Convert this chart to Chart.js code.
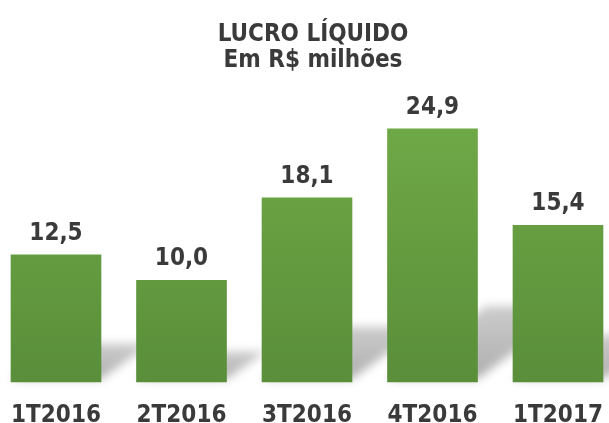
<!DOCTYPE html>
<html>
<head>
<meta charset="utf-8">
<script src="https://cdn.jsdelivr.net/npm/chart.js@4.4.0/dist/chart.umd.min.js"></script>
<style>
  html, body { margin: 0; padding: 0; background: #fff; overflow: hidden; }
  #wrap { position: relative; width: 609px; height: 423px; }
</style>
</head>
<body>
<div id="wrap"><canvas id="lucroChart"></canvas></div>
<script>
  "use strict";

  // data
  var quarters = ['1T2016', '2T2016', '3T2016', '4T2016', '1T2017'];
  var lucro = [12.5, 10.0, 18.1, 24.9, 15.4];
  var titleLines = ['LUCRO LÍQUIDO', 'Em R$ milhões'];

  var FONT = "'DejaVu Sans Condensed', 'DejaVu Sans', sans-serif";
  var TEXT = '#3a3a3a';

  /*title - two lines, sits a little right of the bars' centre like the source*/
  var chartTitle = {
    id: 'chartTitle',
    afterDraw: function(chart) {
      var ctx = chart.ctx;
      ctx.save();
      ctx.font = 'bold 24px ' + FONT;
      ctx.fillStyle = TEXT;
      ctx.textAlign = 'center';
      ctx.textBaseline = 'alphabetic';
      ctx.fillText(titleLines[0], 313, 41);
      ctx.fillText(titleLines[1], 313, 67);
      ctx.restore();
    }
  };

  /*soft grey shadow cast up-right behind each bar*/
  var barShadow = {
    id: 'barShadow',
    beforeDatasetsDraw: function(chart) {
      var ctx = chart.ctx;
      ctx.save();
      ctx.filter = 'blur(5px)';
      chart.getDatasetMeta(0).data.forEach(function(bar) {
        var l = bar.x - bar.width / 2, r = bar.x + bar.width / 2, b = bar.base;
        var k = (b - bar.y) * 0.3;
        var g = ctx.createLinearGradient(0, b, 0, b - k);
        g.addColorStop(0, 'rgba(0,0,0,0.32)');
        g.addColorStop(1, 'rgba(0,0,0,0.2)');
        ctx.fillStyle = g;
        ctx.beginPath();
        ctx.moveTo(l, b - 3);
        ctx.lineTo(r, b - 3);
        ctx.lineTo(r + k * 1.3, b - k);
        ctx.lineTo(l + k * 1.3, b - k);
        ctx.closePath();
        ctx.fill();
      });
      ctx.restore();
    }
  };

  /*value labels on top of bars*/
  var valueLabels = {
    id: 'valueLabels',
    afterDatasetsDraw: function(chart) {
      var ctx = chart.ctx;
      ctx.save();
      ctx.font = 'bold 24px ' + FONT;
      ctx.fillStyle = TEXT;
      ctx.textAlign = 'center';
      ctx.textBaseline = 'alphabetic';
      chart.getDatasetMeta(0).data.forEach(function(bar, i) {
        ctx.fillText(lucro[i].toFixed(1).replace('.', ','), bar.x, bar.y - 15);
      });
      ctx.restore();
    }
  };

  var ctx = document.getElementById('lucroChart').getContext('2d');
  var chart = new Chart(ctx, {
    type: 'bar',
    data: {
      labels: quarters,
      datasets: [{
        label: 'Lucro líquido',
        data: lucro,
        barThickness: 90,
        clip: false,
        borderWidth: 0,
        backgroundColor: function(c) {
          var area = c.chart.chartArea;
          if (!area) return '#67a042';
          var g = c.chart.ctx.createLinearGradient(0, area.top, 0, area.bottom);
          g.addColorStop(0, '#72ad48');
          g.addColorStop(1, '#5a8e3a');
          return g;
        }
      }]
    },
    options: {
      responsive: true,
      maintainAspectRatio: false,
      animation: false,
      layout: {
        padding: { left: 56, right: 51, top: 81, bottom: 0 }
      },
      plugins: {
        legend: { display: false },
        tooltip: { enabled: false },
        title: { display: false }
      },
      scales: {
        x: {
          offset: false,
          grid: { display: false, drawTicks: false },
          border: { display: false },
          ticks: {
            color: TEXT,
            padding: 0,
            font: { family: FONT, size: 24, weight: 'bold', lineHeight: 2.83 }
          },
          afterFit: function(scale) {
            scale.height = 41;
          }
        },
        y: {
          display: false,
          min: 0,
          max: 29.6
        }
      }
    },
    plugins: [barShadow, valueLabels, chartTitle]
  });
</script>
</body>
</html>
